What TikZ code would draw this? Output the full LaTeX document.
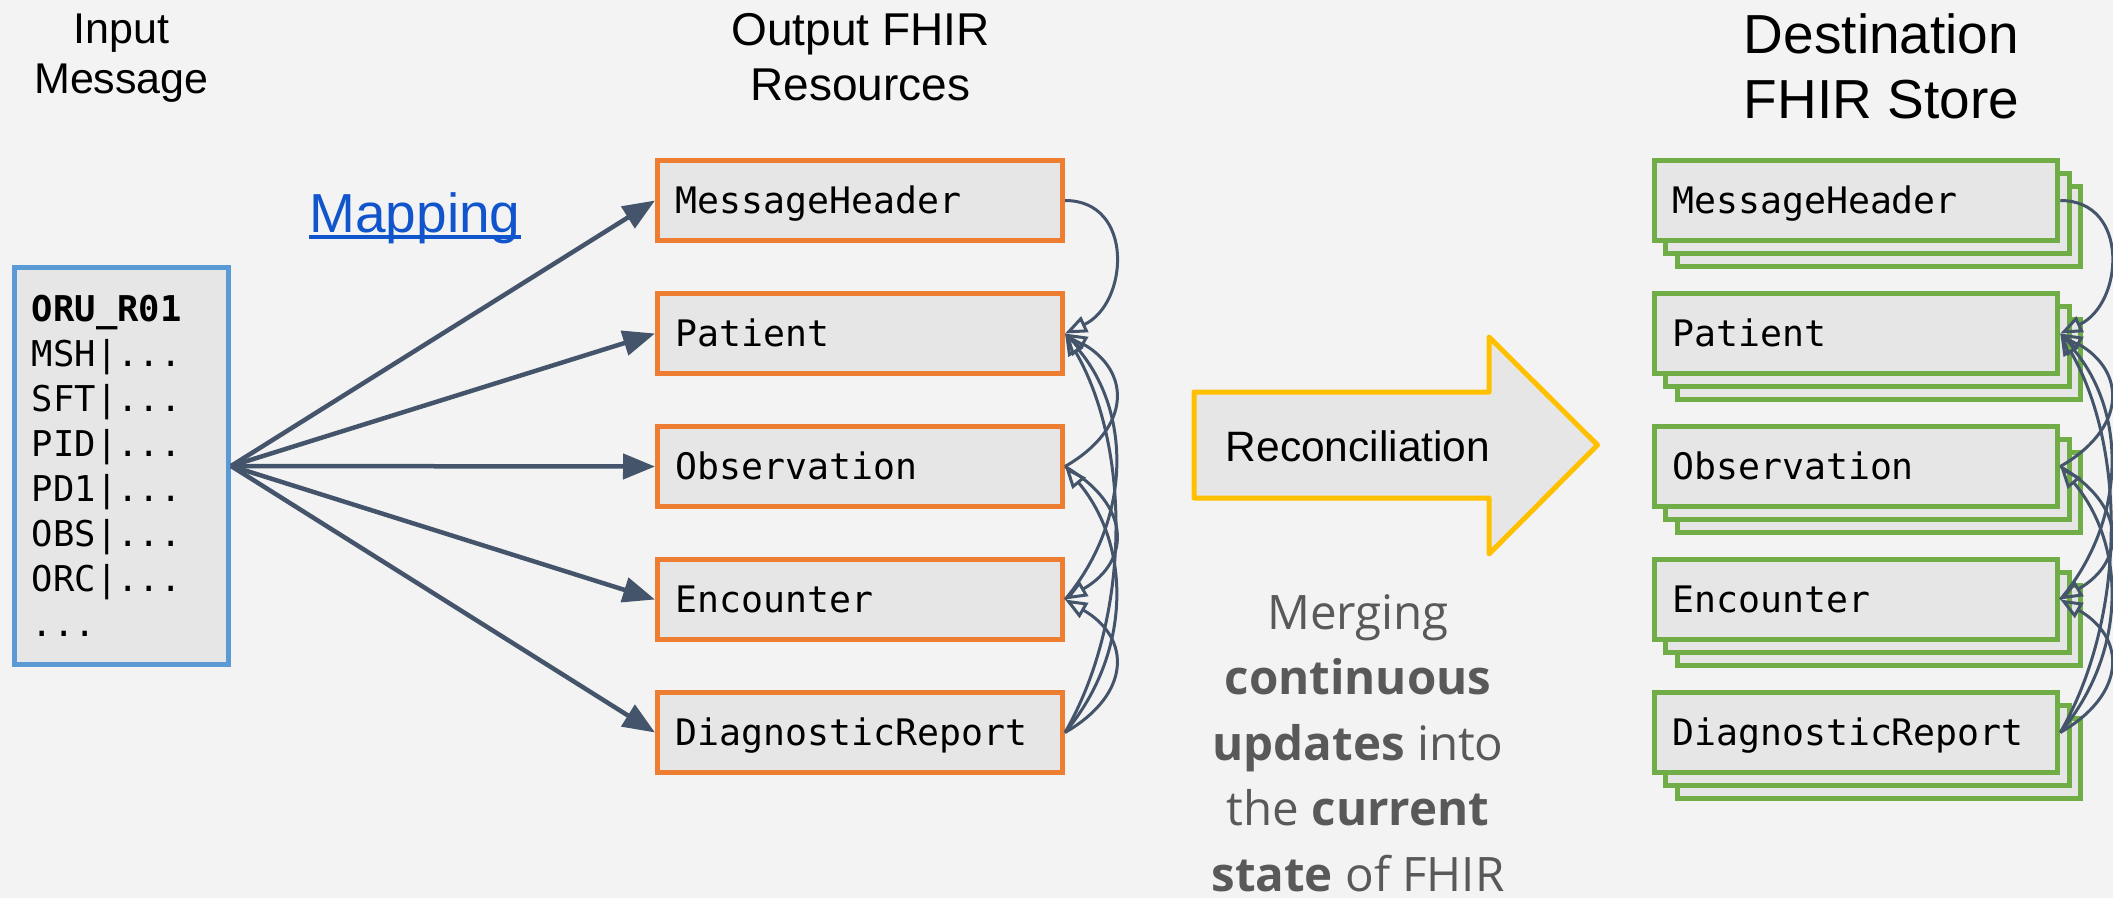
\documentclass[tikz,border=0pt]{standalone}
\usepackage{fontspec}
\setmainfont{Liberation Sans}
\newfontfamily\arialf{Liberation Sans}
\newfontfamily\monof{DejaVu Sans Mono}
\newfontfamily\opensf{Open Sans}
\usetikzlibrary{arrows.meta}
\definecolor{bgc}{HTML}{F3F3F3}
\definecolor{boxc}{HTML}{E6E6E6}
\definecolor{bluec}{HTML}{5B9BD5}
\definecolor{orangec}{HTML}{ED7D31}
\definecolor{greenc}{HTML}{70AD47}
\definecolor{goldc}{HTML}{FFC000}
\definecolor{arrowc}{HTML}{44546A}
\definecolor{linkc}{HTML}{1155CC}
\definecolor{grayc}{HTML}{595959}
\begin{document}
\begin{tikzpicture}[x=1pt,y=1pt,
  resbox/.style={draw, line width=5pt, fill=boxc, minimum height=80pt,
    inner xsep=18pt, inner ysep=0pt, align=left,
    font=\monof\fontsize{36.5}{44}\selectfont, text height=26.5pt, text depth=0pt},
  outbox/.style={resbox, draw=orangec, text width=369pt},
  storebox/.style={resbox, draw=greenc, text width=367.5pt},
  storeback/.style={draw=greenc, line width=5pt, fill=boxc, minimum height=80pt,
    minimum width=403.5pt, inner sep=0pt},
  mainarrow/.style={draw=arrowc, line width=4.5pt, -{Triangle[length=32pt, width=25pt]}},
  refarrow/.style={draw=arrowc, line width=3pt, -{Triangle[open, length=22pt, width=17pt]}},
  title/.style={font=\arialf\fontsize{#1}{#1}\selectfont, anchor=base, inner sep=0pt},
  merge/.style={font=\opensf\fontsize{47.5}{47.5}\selectfont, text=grayc, anchor=base, inner sep=0pt}
]
\useasboundingbox (0,0) rectangle (2113,-898);
\fill[bgc] (0,0) rectangle (2113,-898);

% titles
\node[title=43] (t1a) at (121.5,-43) {Input};
\node[title=43] (t1b) at (121.5,-93) {Message};
\node[title=46] (t2a) at (860.5,-45) {Output FHIR};
\node[title=46] (t2b) at (860.5,-100) {Resources};
\node[title=55] (t3a) at (1881.5,-53) {Destination};
\node[title=55] (t3b) at (1881.5,-118) {FHIR Store};

% input message
\node[draw=bluec, line width=5pt, fill=boxc, minimum width=214.5pt, minimum height=397pt, inner sep=0pt] (inp) at (121.3,-466) {};
\node[anchor=north west, inner sep=0pt, align=left, font=\monof\fontsize{35.5}{45}\selectfont] (intext) at (31.7,-295)
  {\textbf{ORU\_R01}\\MSH|...\\SFT|...\\PID|...\\PD1|...\\OBS|...\\ORC|...\\...};

% mapping label
\node[font=\arialf\fontsize{55}{55}\selectfont, text=linkc, anchor=base, inner sep=0pt] (map) at (415,-232) {Mapping};
\draw[linkc, line width=3.5pt] ([yshift=-5pt]map.base west) -- ([yshift=-5pt]map.base east);

% resource boxes
\foreach \n/\t/\yy in {mh/MessageHeader/200.5, pat/Patient/333.5, obs/Observation/466.5, enc/Encounter/599.5, dr/DiagnosticReport/732.5}{
  \node[outbox] (o-\n) at (860,-\yy) {\t};
  \node[storeback] (s-\n-b2) at (1856+23,-\yy-26) {};
  \node[storeback] (s-\n-b1) at (1856+11.5,-\yy-13) {};
  \node[storebox] (s-\n) at (1856,-\yy) {\t};
}

% mapping arrows
\foreach \n in {mh,pat,obs,enc,dr}{
  \draw[mainarrow] (inp.east) -- (o-\n.west);
}

% reference connectors
\foreach \p in {o,s}{
  \draw[refarrow] (\p-mh.east)  to[out=0,  in=25,  looseness=1.35] (\p-pat.east);
  \draw[refarrow] (\p-obs.east) to[out=30, in=-30, looseness=1.48] (\p-pat.east);
  \draw[refarrow] (\p-enc.east) to[out=50, in=-50, looseness=1.0]  (\p-pat.east);
  \draw[refarrow] (\p-dr.east)  to[out=60, in=-60, looseness=0.85] (\p-pat.east);
  \draw[refarrow] (\p-obs.east) to[out=-30, in=30, looseness=1.48] (\p-enc.east);
  \draw[refarrow] (\p-dr.east)  to[out=30, in=-30, looseness=1.48] (\p-enc.east);
  \draw[refarrow] (\p-dr.east)  to[out=50, in=-50, looseness=1.0]  (\p-obs.east);
}

% reconciliation arrow
\draw[goldc, line width=5pt, fill=boxc, line join=round]
  (1194,-392) -- (1489,-392) -- (1489,-337) -- (1597.5,-445) -- (1489,-554) -- (1489,-498) -- (1194,-498) -- cycle;
\node[font=\arialf\fontsize{42.5}{42.5}\selectfont, inner sep=0pt] (recon) at (1358,-446) {Reconciliation};

% merging text
\node[merge] (m1) at (1358,-629) {Merging};
\node[merge] (m2) at (1358,-694.5) {\bfseries continuous};
\node[merge] (m3) at (1358,-760) {\textbf{updates} into};
\node[merge] (m4) at (1358,-825.5) {the \textbf{current}};
\node[merge] (m5) at (1358,-891) {\textbf{state} of FHIR};
\end{tikzpicture}
\end{document}
